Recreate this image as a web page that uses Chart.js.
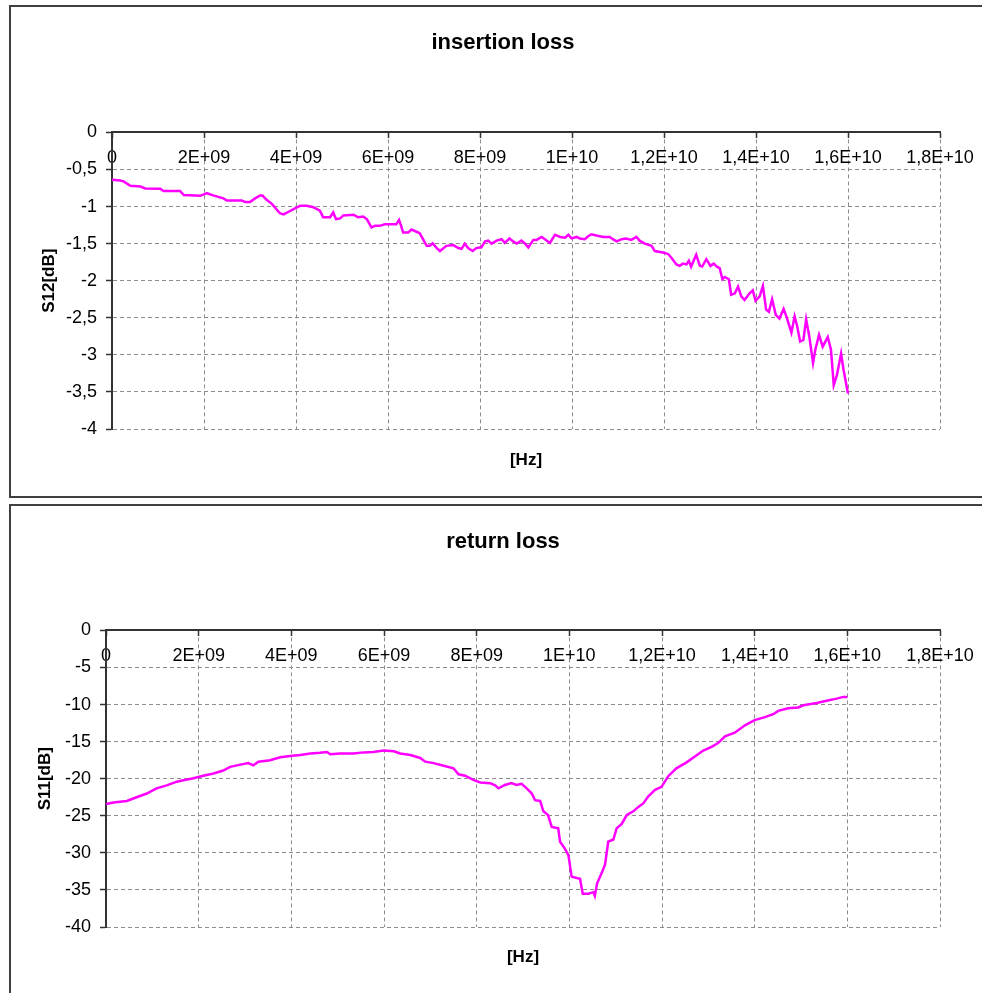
<!DOCTYPE html>
<html>
<head>
<meta charset="utf-8">
<script src="https://cdn.jsdelivr.net/npm/chart.js@4.4.1/dist/chart.umd.min.js"></script>
<style>
html,body{margin:0;padding:0;background:#fff;overflow:hidden;width:982px;height:993px;}
.frame{position:absolute;left:9px;border:2px solid #404040;width:984px;background:#fff;}
#f1{top:5px;height:489px;}
#f2{top:504px;height:487px;}
canvas{display:block;}
</style>
</head>
<body>
<div class="frame" id="f1"><canvas id="c1" width="984" height="489"></canvas></div>
<div class="frame" id="f2"><canvas id="c2" width="984" height="487"></canvas></div>
<script>
// ---- data (frequency in GHz, values in dB) ----
const freqS12GHz = [0,0.18,0.25,0.4,0.62,0.72,1.05,1.12,1.48,1.56,1.92,2.06,2.2,2.42,2.5,2.82,2.9,3.0,3.11,3.22,3.27,3.36,3.47,3.65,3.73,3.87,4.02,4.09,4.23,4.38,4.52,4.59,4.74,4.81,4.87,4.96,5.03,5.25,5.35,5.46,5.54,5.64,5.72,5.82,5.93,6.18,6.24,6.29,6.33,6.44,6.51,6.62,6.69,6.77,6.84,6.91,6.97,7.06,7.13,7.27,7.42,7.53,7.6,7.67,7.74,7.84,7.92,8.03,8.11,8.18,8.25,8.36,8.47,8.54,8.64,8.72,8.8,8.9,8.98,9.05,9.16,9.23,9.34,9.41,9.52,9.63,9.74,9.85,9.92,9.99,10.1,10.17,10.28,10.35,10.42,10.53,10.68,10.82,10.89,10.97,11.08,11.18,11.29,11.4,11.47,11.58,11.73,11.8,11.98,12.09,12.16,12.27,12.34,12.41,12.49,12.54,12.59,12.7,12.78,12.83,12.92,13.01,13.08,13.15,13.21,13.27,13.32,13.41,13.46,13.54,13.61,13.68,13.75,13.86,13.93,13.99,14.08,14.15,14.22,14.28,14.35,14.43,14.51,14.6,14.66,14.77,14.84,14.89,14.96,15.03,15.09,15.16,15.24,15.29,15.37,15.45,15.56,15.63,15.69,15.76,15.85,15.9,16.0];
const s12dB = [-0.64,-0.65,-0.66,-0.72,-0.73,-0.755,-0.76,-0.79,-0.79,-0.845,-0.855,-0.82,-0.85,-0.89,-0.92,-0.92,-0.94,-0.94,-0.89,-0.85,-0.85,-0.91,-0.96,-1.09,-1.105,-1.06,-1.01,-0.99,-0.99,-1.01,-1.055,-1.145,-1.145,-1.08,-1.17,-1.16,-1.12,-1.11,-1.145,-1.135,-1.17,-1.28,-1.26,-1.26,-1.24,-1.24,-1.18,-1.27,-1.35,-1.35,-1.31,-1.34,-1.36,-1.45,-1.53,-1.53,-1.495,-1.56,-1.6,-1.53,-1.52,-1.56,-1.57,-1.5,-1.56,-1.6,-1.56,-1.55,-1.47,-1.46,-1.5,-1.46,-1.44,-1.49,-1.43,-1.47,-1.5,-1.46,-1.5,-1.55,-1.45,-1.45,-1.41,-1.44,-1.49,-1.38,-1.41,-1.42,-1.38,-1.43,-1.41,-1.43,-1.44,-1.4,-1.375,-1.39,-1.41,-1.41,-1.44,-1.47,-1.44,-1.43,-1.45,-1.41,-1.46,-1.5,-1.53,-1.6,-1.62,-1.64,-1.69,-1.78,-1.8,-1.77,-1.78,-1.73,-1.81,-1.65,-1.8,-1.81,-1.71,-1.8,-1.77,-1.81,-1.83,-1.98,-1.95,-1.98,-2.19,-2.17,-2.08,-2.21,-2.26,-2.17,-2.13,-2.27,-2.21,-2.07,-2.39,-2.42,-2.25,-2.46,-2.51,-2.38,-2.48,-2.7,-2.48,-2.6,-2.82,-2.8,-2.52,-2.76,-3.11,-2.93,-2.73,-2.89,-2.76,-2.93,-3.41,-3.27,-2.98,-3.19,-3.52];

const freqS11GHz = [0,0.16,0.45,0.66,0.88,1.09,1.31,1.53,1.67,1.89,2.1,2.32,2.53,2.68,2.9,3.07,3.18,3.29,3.54,3.76,3.97,4.19,4.41,4.62,4.77,4.84,5.05,5.34,5.56,5.77,5.99,6.21,6.35,6.57,6.78,6.89,7.07,7.29,7.5,7.61,7.75,7.94,8.08,8.29,8.4,8.47,8.61,8.75,8.86,8.97,9.08,9.19,9.26,9.37,9.44,9.54,9.62,9.76,9.8,9.9,9.98,10.05,10.16,10.23,10.29,10.41,10.52,10.55,10.6,10.7,10.77,10.84,10.95,11.02,11.13,11.24,11.38,11.49,11.6,11.7,11.85,11.99,12.13,12.31,12.53,12.71,12.89,13.07,13.21,13.36,13.57,13.79,14.0,14.22,14.4,14.51,14.72,14.94,15.05,15.34,15.55,15.77,15.91,16.0];
const s11dB = [-23.4,-23.2,-23.0,-22.5,-22.0,-21.3,-20.9,-20.4,-20.2,-19.95,-19.6,-19.3,-18.9,-18.4,-18.1,-17.9,-18.2,-17.7,-17.5,-17.1,-16.95,-16.8,-16.6,-16.5,-16.4,-16.7,-16.6,-16.6,-16.45,-16.4,-16.2,-16.3,-16.6,-16.8,-17.2,-17.7,-17.9,-18.25,-18.6,-19.4,-19.6,-20.2,-20.5,-20.6,-20.9,-21.3,-20.85,-20.6,-20.85,-20.7,-21.3,-22.0,-22.9,-23.0,-24.4,-24.9,-26.5,-26.7,-28.5,-29.4,-30.3,-33.2,-33.4,-33.5,-35.5,-35.5,-35.3,-35.8,-34.1,-32.7,-31.6,-28.5,-28.2,-26.7,-26.1,-24.9,-24.4,-23.8,-23.3,-22.4,-21.5,-21.1,-19.7,-18.6,-17.8,-17.0,-16.2,-15.7,-15.2,-14.3,-13.8,-12.8,-12.1,-11.7,-11.3,-10.85,-10.5,-10.4,-10.1,-9.8,-9.5,-9.2,-8.97,-8.97];

// ---- tick labels ----
const xTickLabels = ["0","2E+09","4E+09","6E+09","8E+09","1E+10","1,2E+10","1,4E+10","1,6E+10","1,8E+10"];
const s12TickLabels = ["-4","-3,5","-3","-2,5","-2","-1,5","-1","-0,5","0"];
const s11TickLabels = ["-40","-35","-30","-25","-20","-15","-10","-5","0"];

Chart.defaults.font.family = "'Liberation Sans', Arial, sans-serif";
Chart.defaults.color = '#000';

const GRID = '#8c8c8c';
const AXIS = '#333333';

function makeChart(id, titleText, yTitle, freqs, vals, yMin, yStep, yLabels, g) {
  return new Chart(document.getElementById(id), {
    type: 'line',
    data: {
      datasets: [{
        data: freqs.map((f, i) => ({x: f * 1e9, y: vals[i]})),
        borderColor: '#ff00ff',
        borderWidth: 2.5,
        pointRadius: 0,
        tension: 0,
        fill: false
      }]
    },
    options: {
      responsive: false,
      animation: false,
      devicePixelRatio: 1,
      layout: {padding: {left: 0, right: 0, top: 0, bottom: 0}},
      plugins: {
        legend: {display: false},
        tooltip: {enabled: false},
        title: {
          display: true, text: titleText, color: '#000',
          font: {size: 22, weight: 'bold'},
          padding: {top: g.tTop, bottom: g.tBottom}
        }
      },
      scales: {
        x: {
          type: 'linear', position: {y: 0}, min: 0, max: 1.8e10,
          ticks: {
            stepSize: 2e9, autoSkip: false, maxRotation: 0, minRotation: 0,
            padding: 10, color: '#000', font: {size: 18},
            callback: (v, i) => xTickLabels[i]
          },
          grid: {color: GRID, lineWidth: 1, tickLength: 5, tickColor: AXIS, tickWidth: 1.5, tickBorderDash: []},
          border: {display: true, color: AXIS, width: 2, dash: [4, 3]}
        },
        x2: {
          type: 'linear', position: 'bottom', min: 0, max: 1.8e10,
          ticks: {display: false},
          grid: {display: false, drawTicks: false},
          border: {display: false},
          title: {display: true, text: '[Hz]', color: '#000', font: {size: 17, weight: 'bold'}, padding: {top: 0, bottom: 25}},
          afterFit: s => { s.height = g.x2H; }
        },
        y: {
          type: 'linear', position: 'left', min: yMin, max: 0,
          ticks: {
            stepSize: yStep, padding: 9, color: '#000', font: {size: 18},
            callback: v => yLabels[Math.round((v - yMin) / yStep)]
          },
          grid: {color: GRID, lineWidth: 1, tickLength: 6, tickColor: AXIS, tickWidth: 1.5, tickBorderDash: []},
          border: {display: true, color: AXIS, width: 2, dash: [4, 3]},
          title: {display: true, text: yTitle, color: '#000', font: {size: 17, weight: 'bold'}, padding: {top: g.yTitlePad, bottom: 0}},
          afterFit: s => { s.width = g.yW; }
        },
        yRight: {
          type: 'linear', position: 'right',
          ticks: {display: false},
          grid: {display: false, drawTicks: false},
          border: {display: false},
          afterFit: s => { s.width = g.rightW; }
        }
      }
    }
  });
}

makeChart('c1', 'insertion loss', 'S12[dB]', freqS12GHz, s12dB, -4, 0.5, s12TickLabels,
  {tTop: 23, tBottom: 76, x2H: 67, yW: 101, yTitlePad: 28, rightW: 55});
makeChart('c2', 'return loss', 'S11[dB]', freqS11GHz, s11dB, -40, 5, s11TickLabels,
  {tTop: 23, tBottom: 75, x2H: 66, yW: 95, yTitlePad: 24, rightW: 55});
</script>
</body>
</html>
